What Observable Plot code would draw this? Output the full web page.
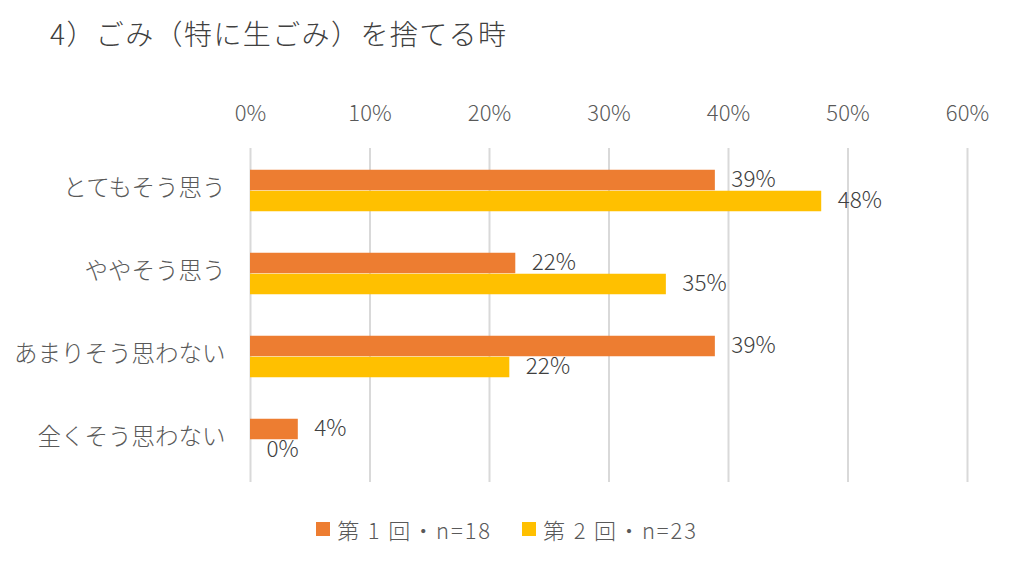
<!DOCTYPE html>
<html><head><meta charset="utf-8">
<script src="https://cdn.jsdelivr.net/npm/d3@7"></script>
<script src="https://cdn.jsdelivr.net/npm/@observablehq/plot@0.6"></script>
<style>
body{margin:0;background:#fff;font-family:"Noto Sans CJK JP","Noto Sans",sans-serif;}
#wrap{position:relative;width:1014px;height:569px;overflow:hidden;}
#title{position:absolute;left:50px;top:13px;font-size:28px;color:#404040;white-space:nowrap;letter-spacing:1.4px;font-weight:300;}
#chart{position:absolute;left:0;top:75px;}
#chart svg text{font-weight:300;}
#legend{position:absolute;left:0;width:1014px;top:513px;display:flex;justify-content:center;gap:30px;font-size:22px;color:#595959;letter-spacing:1.9px;font-weight:300;}
.item{display:flex;align-items:center;gap:7px;}
.sw{width:14px;height:14px;display:inline-block;}
</style></head>
<body><div id="wrap">
<div id="title">4）ごみ（特に生ごみ）を捨てる時</div>
<div id="chart"></div>
<div id="legend"></div>
</div>
<script>
const categories = ["とてもそう思う","ややそう思う","あまりそう思わない","全くそう思わない"];
const series = ["第 1 回・n=18","第 2 回・n=23"];
const round1 = [0.389, 0.222, 0.389, 0.04];
const round2 = [0.478, 0.348, 0.217, 0.0];
const xTicks = [0,0.1,0.2,0.3,0.4,0.5,0.6];
const colors = ["#ED7D31","#FFC000"];

const d1 = categories.map((c,i)=>({cat:c, v:round1[i]}));
const d2 = categories.map((c,i)=>({cat:c, v:round2[i]}));
const pct = d => Math.round(d.v*100) + "%";

const chart = Plot.plot({
  width:1014, height:430,
  marginLeft:250, marginRight:47, marginTop:73, marginBottom:23,
  style:{fontFamily:'"Noto Sans CJK JP","Noto Sans",sans-serif', color:"#595959", background:"#fff"},
  x:{domain:[0,0.6]},
  y:{domain:categories, padding:0},
  marks:[
    Plot.ruleX(xTicks,{stroke:"#d9d9d9", strokeWidth:2}),
    Plot.axisX({anchor:"top", ticks:xTicks, tickFormat:d=>Math.round(d*100)+"%", tickSize:0, tickPadding:28, fontSize:22, fill:"#595959", label:null}),
    Plot.axisY({anchor:"left", tickSize:0, tickPadding:25, fontSize:23.5, dy:-3, fill:"#595959", label:null}),
    Plot.barX(d1,{x:"v", y:"cat", fill:colors[0], insetTop:20.75, insetBottom:41.75}),
    Plot.barX(d2,{x:"v", y:"cat", fill:colors[1], insetTop:41.75, insetBottom:20.75}),
    Plot.text(d1,{x:"v", y:"cat", text:pct, dy:-11.5, dx:16, textAnchor:"start", fontSize:22.5, fill:"#404040"}),
    Plot.text(d2,{x:"v", y:"cat", text:pct, dy:10, dx:16, textAnchor:"start", fontSize:22.5, fill:"#404040"})
  ]
});
document.getElementById("chart").appendChild(chart);

const lg = document.getElementById("legend");
series.forEach((s,i)=>{
  const it = document.createElement("div"); it.className="item";
  const sw = document.createElement("span"); sw.className="sw"; sw.style.background=colors[i];
  const t = document.createElement("span"); t.textContent=s;
  it.appendChild(sw); it.appendChild(t); lg.appendChild(it);
});
</script>
</body></html>
